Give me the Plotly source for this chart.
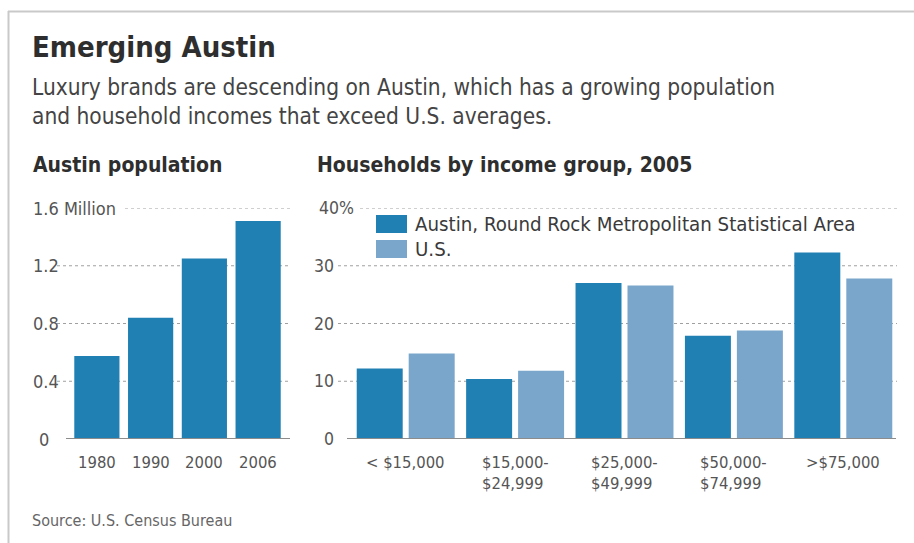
import plotly.graph_objects as go

W, H = 914, 543

# ---- data ----
years = ["1980", "1990", "2000", "2006"]
population_millions = [0.575, 0.84, 1.25, 1.51]
pop_ticks = [0, 0.4, 0.8, 1.2, 1.6]
pop_tick_labels = ["0", "0.4", "0.8", "1.2", "1.6 Million"]

income_groups = ["< $15,000", "$15,000-<br>$24,999", "$25,000-<br>$49,999",
                 "$50,000-<br>$74,999", ">$75,000"]
austin_pct = [12.2, 10.4, 27.0, 17.9, 32.3]
us_pct = [14.8, 11.8, 26.6, 18.8, 27.8]
pct_ticks = [0, 10, 20, 30, 40]
pct_tick_labels = ["0", "10", "20", "30", "40%"]

series_names = ["Austin, Round Rock Metropolitan Statistical Area", "U.S."]

# ---- style ----
FONT = "DejaVu Sans Condensed, Liberation Sans Narrow, Arial Narrow, sans-serif"
C_AUS = "#2080b3"
C_US = "#7aa6cc"
GRID = "#a0a0a0"
TICK = "#555555"


def px(x):
    return x / W


def py(y):
    return 1 - y / H


Y_BOT, Y_TOP = 439, 208

fig = go.Figure()
fig.add_trace(go.Bar(x=years, y=population_millions, marker=dict(color=C_AUS, line=dict(width=0)),
                     xaxis="x", yaxis="y", showlegend=False, hoverinfo="skip"))
fig.add_trace(go.Bar(x=income_groups, y=austin_pct, name=series_names[0],
                     marker=dict(color=C_AUS, line=dict(width=0)),
                     xaxis="x2", yaxis="y2", showlegend=False, hoverinfo="skip"))
fig.add_trace(go.Bar(x=income_groups, y=us_pct, name=series_names[1],
                     marker=dict(color=C_US, line=dict(width=0)),
                     xaxis="x2", yaxis="y2", showlegend=False, hoverinfo="skip"))

ax_common = dict(showgrid=False, zeroline=False, showticklabels=False, ticks="", showline=False,
                 fixedrange=True)
fig.update_layout(
    width=W, height=H,
    margin=dict(l=0, r=0, t=0, b=0),
    paper_bgcolor="white", plot_bgcolor="rgba(0,0,0,0)",
    barmode="group", bargap=0.05, bargroupgap=0.115,
    font=dict(family=FONT, color="#333"),
    xaxis=dict(domain=[px(70), px(285)], type="category", anchor="y",
               range=[-0.5, len(years) - 0.5], **ax_common),
    yaxis=dict(domain=[py(Y_BOT), py(Y_TOP)], range=[0, 1.6], anchor="x", **ax_common),
    xaxis2=dict(domain=[px(351), px(898)], type="category", anchor="y2",
                range=[-0.5, len(income_groups) - 0.5], **ax_common),
    yaxis2=dict(domain=[py(Y_BOT), py(Y_TOP)], range=[0, 40], anchor="x2", **ax_common),
)

shapes = []
anns = []

# frame
shapes.append(dict(type="line", xref="paper", yref="paper", x0=px(8), x1=1, y0=py(11.5), y1=py(11.5),
                   line=dict(color="#c9c9c9", width=2)))
shapes.append(dict(type="line", xref="paper", yref="paper", x0=px(8.5), x1=px(8.5), y0=py(11), y1=0,
                   line=dict(color="#c9c9c9", width=2)))

# gridlines
for v, lab in zip(pop_ticks[1:], pop_tick_labels[1:]):
    x0 = 125 if lab.endswith("Million") else 57
    shapes.append(dict(type="line", xref="paper", yref="y", x0=px(x0), x1=px(291), y0=v, y1=v,
                       layer="below", line=dict(color=GRID, width=1, dash="dot")))
for v, lab in zip(pct_ticks[1:], pct_tick_labels[1:]):
    x0 = 360 if lab.endswith("%") else 338
    shapes.append(dict(type="line", xref="paper", yref="y2", x0=px(x0), x1=px(897), y0=v, y1=v,
                       layer="below", line=dict(color=GRID, width=1, dash="dot")))
# baselines
shapes.append(dict(type="line", xref="paper", yref="y", x0=px(66), x1=px(290), y0=0, y1=0,
                   line=dict(color="#8c8c8c", width=2)))
shapes.append(dict(type="line", xref="paper", yref="y2", x0=px(347), x1=px(896), y0=0, y1=0,
                   line=dict(color="#8c8c8c", width=2)))

# y tick labels
for v, lab in zip(pop_ticks, pop_tick_labels):
    anns.append(dict(xref="paper", yref="y", x=px(37 if lab == "0" else 31), y=v, text=lab,
                     xanchor="left", yanchor="middle", showarrow=False,
                     font=dict(size=18, color=TICK)))
for v, lab in zip(pct_ticks, pct_tick_labels):
    if lab.endswith("%"):
        anns.append(dict(xref="paper", yref="y2", x=px(317), y=v, text=lab, xanchor="left",
                         yanchor="middle", showarrow=False, font=dict(size=17.5, color=TICK)))
    else:
        anns.append(dict(xref="paper", yref="y2", x=px(336), y=v, text=lab, xanchor="right",
                         yanchor="middle", showarrow=False, font=dict(size=17.5, color=TICK)))

# x tick labels (positioned at category index on the category axes)
for i, c in enumerate(years):
    anns.append(dict(xref="x", yref="paper", x=i, y=py(451), text=c, xanchor="center", yanchor="top",
                     showarrow=False, font=dict(size=16.5, color=TICK)))
for i, c in enumerate(income_groups):
    anns.append(dict(xref="x2", yref="paper", x=i, y=py(451), text=c, xanchor="center", yanchor="top",
                     align="left", showarrow=False, font=dict(size=16.5, color=TICK)))

# legend (manual)
for i, (name, col) in enumerate(zip(series_names, [C_AUS, C_US])):
    top = 215 + i * 25
    shapes.append(dict(type="rect", xref="paper", yref="paper", x0=px(376), x1=px(407),
                       y0=py(top + 18), y1=py(top), fillcolor=col, line=dict(width=0)))
    anns.append(dict(xref="paper", yref="paper", x=px(413), y=py(top + 9), text=name,
                     xanchor="left", yanchor="middle", showarrow=False,
                     font=dict(size=20.3, color="#3a3a3a")))

# titles
anns.append(dict(xref="paper", yref="paper", x=px(30), y=py(47), text="Emerging Austin",
                 xanchor="left", yanchor="middle", showarrow=False,
                 font=dict(size=29, color="#2e2e2e", weight=600)))
anns.append(dict(xref="paper", yref="paper", x=px(30), y=py(102),
                 text="Luxury brands are descending on Austin, which has a growing population<br>"
                      "and household incomes that exceed U.S. averages.",
                 xanchor="left", yanchor="middle", align="left", showarrow=False,
                 font=dict(size=22.5, color="#444")))
anns.append(dict(xref="paper", yref="paper", x=px(31), y=py(165), text="Austin population",
                 xanchor="left", yanchor="middle", showarrow=False,
                 font=dict(size=21, color="#2e2e2e", weight=600)))
anns.append(dict(xref="paper", yref="paper", x=px(315), y=py(165),
                 text="Households by income group, 2005",
                 xanchor="left", yanchor="middle", showarrow=False,
                 font=dict(size=21, color="#2e2e2e", weight=600)))
anns.append(dict(xref="paper", yref="paper", x=px(30), y=py(520), text="Source: U.S. Census Bureau",
                 xanchor="left", yanchor="middle", showarrow=False,
                 font=dict(size=16, color="#666")))

fig.update_layout(shapes=shapes, annotations=anns)
fig.write_html("out.html", config={"displayModeBar": False},
               post_script="document.body.style.margin='0px';")
